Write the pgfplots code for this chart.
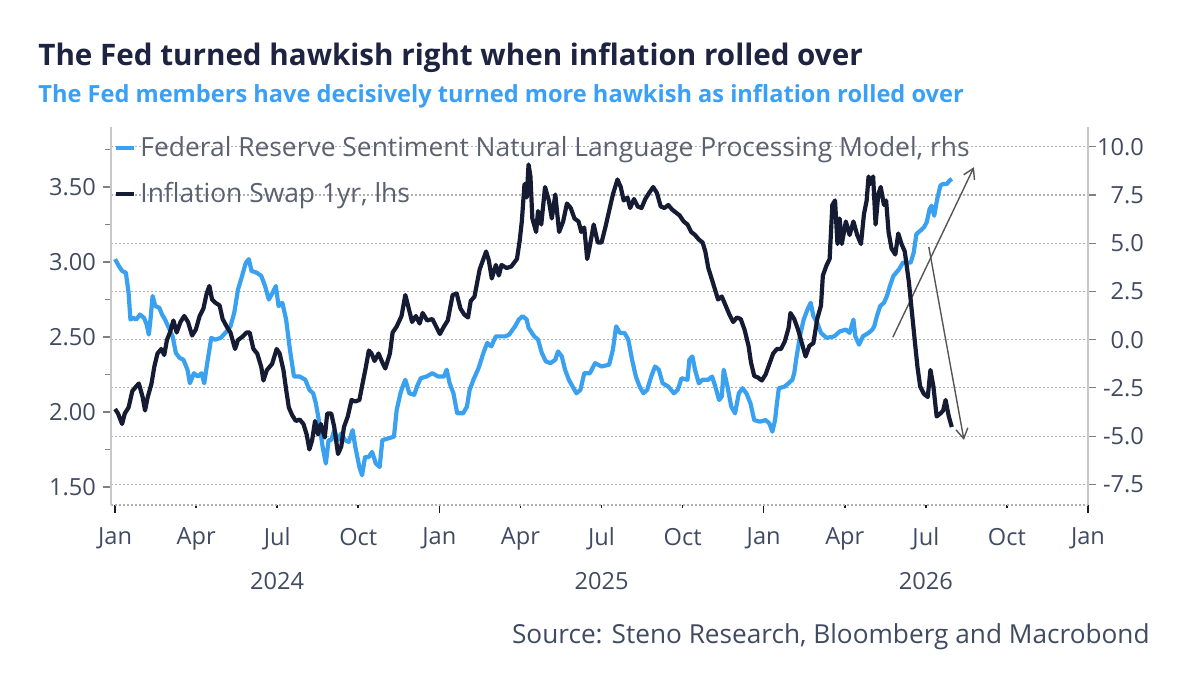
\documentclass[border=0pt]{standalone}
\usepackage{fontspec}
\setmainfont{Open Sans}
\usepackage{pgfplots}
\pgfplotsset{compat=1.18}
\usetikzlibrary{arrows.meta}
\definecolor{navyline}{RGB}{22,27,52}
\definecolor{ttl}{RGB}{29,35,64}
\definecolor{subc}{RGB}{58,160,245}
\definecolor{fedblue}{RGB}{58,160,240}
\definecolor{lbl}{RGB}{64,74,96}
\definecolor{leg}{RGB}{90,97,112}
\definecolor{axgray}{RGB}{200,200,200}
\definecolor{gridgray}{RGB}{175,175,175}
\definecolor{arrgray}{RGB}{85,85,85}

\pgfplotstableread{
m v
0 2.02
0.11 1.99
0.26 1.92
0.36 1.99
0.50 2.03
0.64 2.14
0.78 2.17
0.88 2.19
1.02 2.10
1.11 2.01
1.21 2.10
1.35 2.19
1.45 2.30
1.57 2.39
1.71 2.42
1.82 2.38
1.92 2.48
2.03 2.53
2.16 2.61
2.28 2.53
2.42 2.60
2.56 2.64
2.70 2.60
2.85 2.51
2.99 2.55
3.13 2.64
3.27 2.69
3.39 2.79
3.49 2.84
3.59 2.75
3.70 2.73
3.87 2.71
3.98 2.62
4.13 2.57
4.27 2.53
4.44 2.42
4.55 2.48
4.70 2.50
4.87 2.53
4.98 2.53
5.12 2.42
5.26 2.39
5.41 2.30
5.49 2.21
5.62 2.28
5.81 2.32
5.98 2.42
6.09 2.39
6.23 2.28
6.33 2.15
6.43 2.03
6.55 1.98
6.69 1.94
6.83 1.95
6.97 1.92
7.09 1.85
7.19 1.75
7.29 1.81
7.40 1.94
7.51 1.85
7.61 1.92
7.76 1.83
7.85 1.99
8.00 1.99
8.11 1.90
8.25 1.72
8.37 1.77
8.47 1.90
8.61 1.97
8.75 2.08
8.89 2.07
9.04 2.08
9.18 2.21
9.28 2.30
9.39 2.41
9.49 2.39
9.60 2.34
9.75 2.39
9.89 2.33
10.00 2.29
10.17 2.39
10.27 2.53
10.42 2.57
10.60 2.64
10.74 2.78
10.84 2.71
10.99 2.60
11.13 2.64
11.27 2.59
11.38 2.66
11.55 2.61
11.74 2.62
11.88 2.57
12.02 2.52
12.17 2.57
12.31 2.61
12.49 2.78
12.64 2.79
12.78 2.69
12.92 2.65
13.06 2.63
13.16 2.74
13.30 2.77
13.49 2.95
13.63 3.02
13.73 3.07
13.83 3.01
13.94 2.89
14.09 2.98
14.20 2.91
14.30 2.98
14.49 2.96
14.66 2.97
14.87 3.02
14.97 3.14
15.05 3.27
15.15 3.52
15.23 3.43
15.30 3.65
15.37 3.57
15.44 3.29
15.58 3.20
15.65 3.34
15.77 3.25
15.91 3.50
16.05 3.41
16.16 3.29
16.29 3.45
16.43 3.20
16.58 3.27
16.72 3.39
16.86 3.36
17.00 3.29
17.15 3.27
17.25 3.20
17.36 3.23
17.47 3.02
17.57 3.11
17.71 3.25
17.86 3.13
18.00 3.13
18.14 3.23
18.28 3.34
18.42 3.45
18.59 3.55
18.71 3.50
18.82 3.41
18.96 3.43
19.06 3.36
19.20 3.42
19.34 3.37
19.48 3.36
19.62 3.42
19.76 3.46
19.91 3.50
20.05 3.46
20.19 3.37
20.33 3.36
20.47 3.38
20.61 3.35
20.75 3.33
20.89 3.31
21.04 3.27
21.18 3.25
21.32 3.20
21.46 3.18
21.60 3.15
21.74 3.13
21.84 3.07
21.95 2.96
22.09 2.88
22.21 2.81
22.31 2.75
22.45 2.77
22.59 2.71
22.73 2.65
22.87 2.60
23.01 2.63
23.15 2.62
23.29 2.55
23.44 2.44
23.53 2.33
23.65 2.24
23.79 2.23
23.93 2.21
24.07 2.25
24.21 2.32
24.35 2.39
24.49 2.42
24.64 2.42
24.78 2.47
24.92 2.56
24.99 2.66
25.13 2.62
25.27 2.55
25.41 2.46
25.55 2.37
25.69 2.44
25.84 2.46
25.98 2.62
26.12 2.71
26.19 2.91
26.33 2.98
26.44 3.02
26.54 3.38
26.64 3.41
26.73 3.12
26.81 3.29
26.89 3.12
27.04 3.27
27.18 3.18
27.32 3.27
27.46 3.18
27.60 3.12
27.71 3.32
27.81 3.41
27.88 3.57
27.95 3.52
28.05 3.57
28.14 3.25
28.24 3.45
28.33 3.50
28.45 3.38
28.53 3.41
28.62 3.20
28.73 3.09
28.87 3.05
28.98 3.19
29.10 3.12
29.22 3.07
29.37 2.87
29.51 2.62
29.61 2.44
29.69 2.30
29.79 2.17
29.93 2.12
30.07 2.10
30.17 2.28
30.28 2.17
30.40 1.97
30.54 1.99
30.64 2.01
30.73 2.08
30.85 1.97
30.96 1.90
}\swap

\pgfplotstableread{
m v
0 4.17
0.14 3.82
0.26 3.56
0.40 3.47
0.50 2.43
0.57 1.04
0.68 1.13
0.78 1.04
0.92 1.30
1.07 1.13
1.17 0.78
1.25 0.26
1.31 1.04
1.39 2.26
1.49 1.74
1.64 1.65
1.74 1.30
1.85 1.04
1.99 0.61
2.13 0.17
2.25 -0.69
2.39 -0.95
2.53 -1.04
2.68 -1.56
2.77 -2.26
2.92 -1.74
3.06 -1.91
3.20 -1.74
3.30 -2.26
3.41 -1.22
3.56 0.09
3.70 0.00
3.91 0.09
4.13 0.43
4.27 0.69
4.41 1.39
4.55 2.60
4.70 3.30
4.84 3.99
4.95 4.17
5.05 3.56
5.24 3.47
5.41 3.30
5.55 2.78
5.69 2.08
5.83 2.43
5.95 2.78
6.05 1.74
6.19 1.91
6.33 1.04
6.47 -0.52
6.62 -1.91
6.83 -1.91
7.04 -2.08
7.19 -2.60
7.33 -2.78
7.43 -3.30
7.54 -4.17
7.68 -5.56
7.80 -6.42
7.90 -5.21
8.00 -5.21
8.11 -4.69
8.25 -5.21
8.37 -4.86
8.51 -5.21
8.65 -5.30
8.79 -4.69
8.89 -5.56
9.04 -6.60
9.14 -7.03
9.25 -6.08
9.39 -6.08
9.51 -5.82
9.65 -6.42
9.79 -6.60
9.89 -5.21
10.10 -5.12
10.32 -5.03
10.42 -3.65
10.56 -2.78
10.64 -2.43
10.74 -2.08
10.89 -2.78
11.07 -2.86
11.17 -2.43
11.31 -2.00
11.53 -1.91
11.74 -1.74
11.95 -1.91
12.17 -1.91
12.27 -1.56
12.38 -2.26
12.52 -2.78
12.66 -3.82
12.88 -3.82
13.02 -3.47
13.12 -2.60
13.26 -2.08
13.45 -1.48
13.63 -0.69
13.77 -0.17
13.92 -0.35
14.09 0.17
14.23 0.17
14.44 0.17
14.58 0.26
14.80 0.69
14.94 1.04
15.08 1.22
15.23 1.04
15.30 0.61
15.51 0.17
15.65 0.00
15.79 -0.69
15.94 -1.13
16.11 -1.22
16.29 -1.04
16.39 -0.61
16.53 -0.87
16.65 -1.56
16.79 -2.08
16.93 -2.43
17.07 -2.78
17.22 -2.60
17.36 -1.74
17.57 -1.74
17.76 -1.22
18.00 -1.39
18.28 -1.30
18.42 -0.52
18.54 0.69
18.68 0.35
18.85 0.35
18.99 0.00
19.13 -1.04
19.27 -1.91
19.41 -2.43
19.55 -2.78
19.69 -2.60
19.84 -1.91
19.98 -1.39
20.12 -1.56
20.26 -2.26
20.47 -2.43
20.68 -2.78
20.82 -2.60
20.96 -2.00
21.18 -2.08
21.25 -1.04
21.36 -0.87
21.46 -1.56
21.60 -2.26
21.74 -2.08
21.95 -2.08
22.09 -1.91
22.21 -2.43
22.35 -3.13
22.45 -2.95
22.52 -1.56
22.66 -2.43
22.80 -3.47
22.94 -3.82
23.08 -2.78
23.22 -2.52
23.36 -2.78
23.51 -3.30
23.65 -4.17
23.86 -4.25
24.07 -4.17
24.21 -4.34
24.32 -4.77
24.42 -4.17
24.49 -3.30
24.56 -2.52
24.78 -2.43
24.92 -2.26
25.06 -2.08
25.13 -1.74
25.20 -1.04
25.34 0.17
25.48 1.04
25.62 1.56
25.74 1.91
25.84 1.22
25.98 0.87
26.12 0.35
26.33 0.09
26.61 0.17
26.82 0.43
27.04 0.52
27.18 0.35
27.32 1.04
27.39 0.17
27.53 -0.26
27.67 0.17
27.88 0.35
28.02 0.52
28.09 0.69
28.19 1.22
28.31 1.74
28.45 1.91
28.56 2.26
28.67 2.78
28.80 3.30
29.01 3.65
29.15 3.99
29.29 3.99
29.44 3.99
29.55 4.51
29.65 5.47
29.79 5.64
29.93 5.82
30.03 6.08
30.14 6.77
30.21 6.94
30.31 6.42
30.42 7.29
30.54 7.99
30.64 8.07
30.78 8.07
30.88 8.25
30.96 8.33
}\fed

\begin{document}
\begin{tikzpicture}
\path[use as bounding box] (0,0) rectangle (600pt,337.5pt);
\node[anchor=base west, inner sep=0, text=ttl, font=\fontsize{14.8}{17}\selectfont\bfseries] at (19pt,304.5pt) {The Fed turned hawkish right when inflation rolled over};
\node[anchor=base west, inner sep=0, text=subc, font=\fontsize{11.8}{14}\selectfont\bfseries] at (19pt,286pt) {The Fed members have decisively turned more hawkish as inflation rolled over};
\node[anchor=base east, inner sep=0, text=lbl, font=\fontsize{13.1}{15}\selectfont] at (575pt,16pt) {Source: Steno Research, Bloomberg and Macrobond};

% right axis: Fed sentiment
\begin{axis}[
  at={(55.5pt,85pt)}, anchor=south west,
  scale only axis, width=488.5pt, height=189pt,
  xmin=-0.15, xmax=36, ymin=-8.57, ymax=11.02,
  axis x line*=bottom,
  x axis line style={draw=none},
  xtick={0,12,24,36}, xticklabels={},
  minor xtick={3,6,9,15,18,21,27,30,33},
  xtick style={navyline, line width=0.8pt},
  minor tick length=1.5pt,
  axis y line*=right,
  y axis line style={axgray, line width=1pt, -},
  ytick={-7.5,-5,-2.5,0,2.5,5,7.5,10},
  tick align=outside,
  major tick length=4pt,
  ytick style={gray, line width=0.6pt},
  ymajorgrids,
  grid style={gridgray, line width=0.6pt, dash pattern=on 1pt off 1pt},
  /pgf/number format/fixed, /pgf/number format/fixed zerofill, /pgf/number format/precision=1, /pgf/number format/assume math mode=true,
  y tick label style={anchor=east, xshift=27.5pt, text=lbl, font=\fontsize{11.8}{14}\selectfont},
]
\addplot[fedblue, line width=2.1pt, line join=round] table[x=m, y=v] {\fed};
\draw[arrgray, line width=0.7pt, -{Straight Barb[length=5pt,width=6pt]}] (axis cs:28.78,0.13) -- (axis cs:31.78,8.94);
\draw[arrgray, line width=0.7pt, -{Straight Barb[length=5pt,width=6pt]}] (axis cs:30.11,4.80) -- (axis cs:31.41,-5.20);
\end{axis}

% left axis: inflation swap
\begin{axis}[
  at={(55.5pt,85pt)}, anchor=south west,
  scale only axis, width=488.5pt, height=189pt,
  xmin=-0.15, xmax=36, ymin=1.38, ymax=3.90,
  axis x line*=bottom, axis y line*=left,
  x axis line style={gridgray, line width=0.6pt, dash pattern=on 1pt off 1pt, -},
  y axis line style={axgray, line width=1pt, -},
  tick align=outside,
  xtick={0,3,...,36},
  xticklabels={Jan,Apr,{Jul\\[8pt]2024},Oct,Jan,Apr,{Jul\\[8pt]2025},Oct,Jan,Apr,{Jul\\[8pt]2026},Oct,Jan},
  xtick style={draw=none},
  x tick label style={align=center, text=lbl, font=\fontsize{11.8}{14}\selectfont, yshift=-4pt},
  major tick length=4pt,
  minor tick length=3pt,
  ytick={1.5,2,2.5,3,3.5},
  minor ytick={1.75,2.25,2.75,3.25,3.75},
  ytick style={gray, line width=0.6pt},
  /pgf/number format/fixed, /pgf/number format/fixed zerofill, /pgf/number format/precision=2, /pgf/number format/assume math mode=true,
  y tick label style={text=lbl, font=\fontsize{11.8}{14}\selectfont},
  legend style={at={(0,1)}, anchor=north west, xshift=0.5pt, yshift=-1.5pt, draw=none, fill=none,
    font=\fontsize{13.2}{15}\selectfont, text=leg, row sep=7.5pt, inner sep=1pt},
  legend cell align=left,
  legend image code/.code={\draw[#1, line width=2pt] (0pt,0pt) -- (9pt,0pt);},
]
\addlegendimage{fedblue}
\addlegendentry{Federal Reserve Sentiment Natural Language Processing Model, rhs}
\addplot[navyline, line width=2.1pt, line join=round] table[x=m, y=v] {\swap};
\addlegendentry{Inflation Swap 1yr, lhs}
\end{axis}
\end{tikzpicture}
\end{document}
